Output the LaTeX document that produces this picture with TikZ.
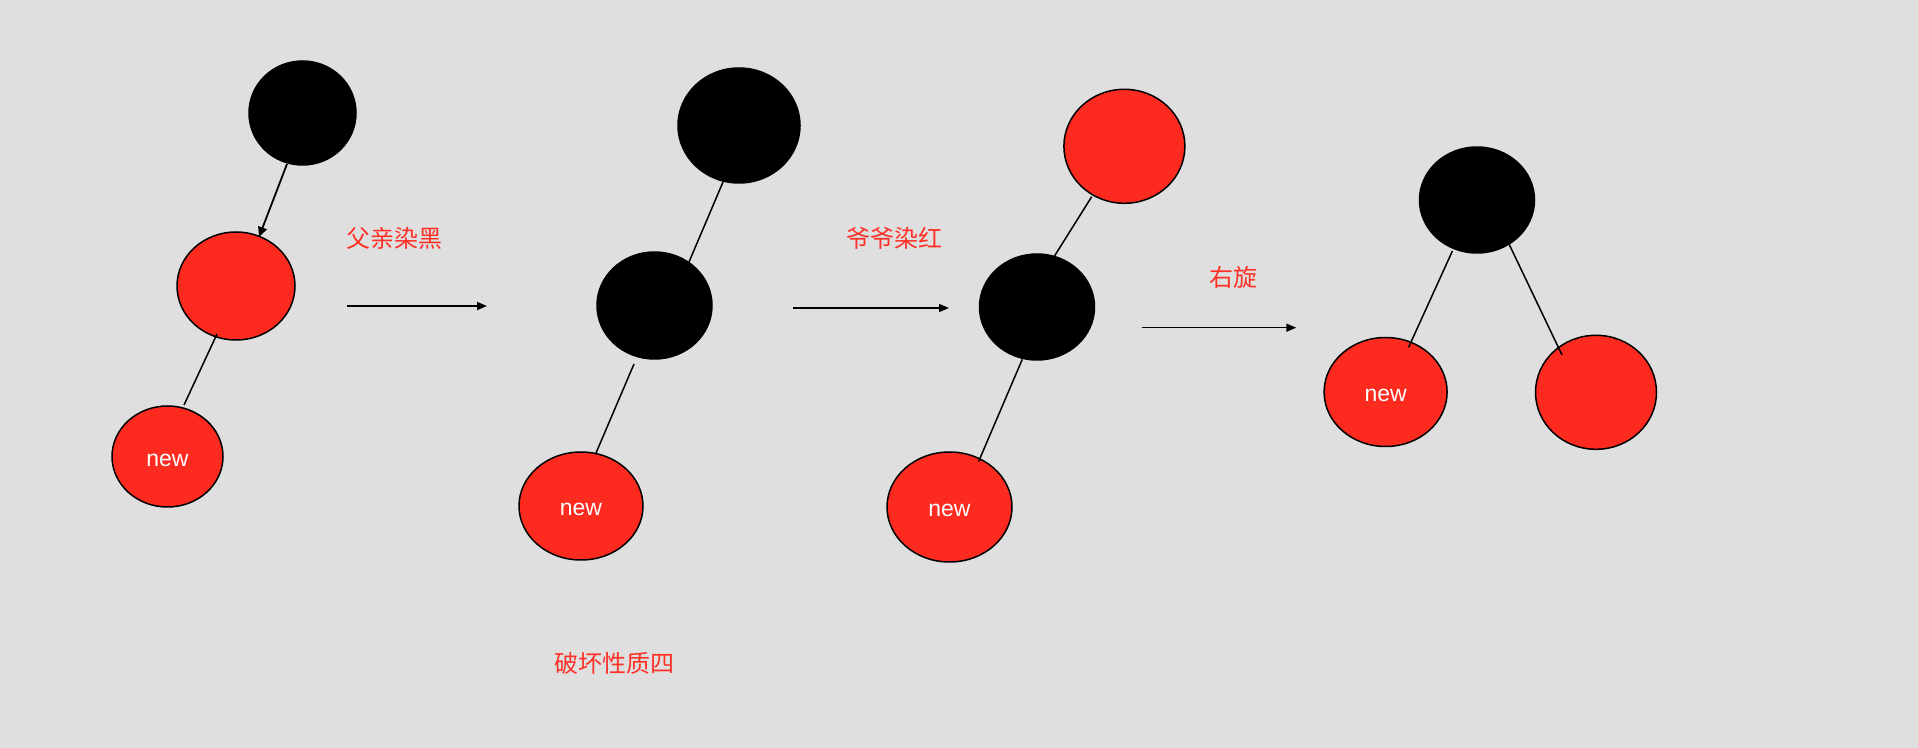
\documentclass[tikz,border=0pt]{standalone}
\usepackage{fontspec}
\setmainfont{Liberation Sans}
\newfontfamily\cjk{Noto Sans CJK SC}
\usetikzlibrary{shapes.geometric,arrows.meta,calc}
\definecolor{bg}{RGB}{223,223,223}
\definecolor{rbred}{RGB}{252,42,31}
\definecolor{lblred}{RGB}{255,48,38}
\begin{document}
\begin{tikzpicture}[x=0.5pt,y=-0.5pt,
  blk/.style={ellipse,fill=black,draw=black,line width=0.75pt,inner sep=0pt,outer sep=0pt},
  red/.style={ellipse,fill=rbred,draw=black,line width=0.75pt,inner sep=0pt,outer sep=0pt,
    text=white,font=\fontsize{11.5}{13}\selectfont,text height=10pt,text depth=0pt},
  edge/.style={draw=black,line width=0.75pt},
  harrow/.style={draw=black,line width=0.8pt,-{Triangle[length=5pt,width=4pt]}},
  lbl/.style={text=lblred,font=\cjk\fontsize{12}{14}\selectfont,inner sep=0pt}]
\fill[bg] (0,0) rectangle (1918,748);
\useasboundingbox (0,0) rectangle (1918,748);
% tree 1
\node[blk,minimum width=53.5pt,minimum height=52pt] (a1) at (302.5,113) {};
\node[red,minimum width=59pt,minimum height=54pt] (b1) at (236,286) {};
\node[red,minimum width=55.5pt,minimum height=50.5pt] (c1) at (167.5,456.5) {new};
% tree 2
\node[blk,minimum width=61pt,minimum height=57.5pt] (a2) at (739,125.5) {};
\node[blk,minimum width=57.5pt,minimum height=53.5pt] (b2) at (654.5,305.5) {};
\node[red,minimum width=62pt,minimum height=54pt] (c2) at (581,506) {new};
% tree 3
\node[red,minimum width=60.5pt,minimum height=57pt] (a3) at (1124.4,146.3) {};
\node[blk,minimum width=57.5pt,minimum height=53pt] (b3) at (1037,307) {};
\node[red,minimum width=62.5pt,minimum height=55pt] (c3) at (949.5,507) {new};
% tree 4
\node[blk,minimum width=57.5pt,minimum height=53pt] (a4) at (1477,200) {};
\node[red,minimum width=61.5pt,minimum height=54.5pt] (b4) at (1385.6,392) {new};
\node[red,minimum width=60.5pt,minimum height=57pt] (c4) at (1596,392.3) {};
% edges
\draw[harrow,line width=0.9pt,-{Triangle[length=5pt,width=4.5pt]}] ($(a1)+(-15.5,51)$) -- ($(b1)+(23,-49)$);
\draw[edge] ($(b1)+(-19,48)$) -- ($(c1)+(16.5,-51.5)$);
\draw[edge] ($(a2)+(-16,56.5)$) -- ($(b2)+(34.5,-43.5)$);
\draw[edge] ($(b2)+(-20.5,58.5)$) -- ($(c2)+(15,-53)$);
\draw[edge] ($(a3)+(-32.7,50.4)$) -- ($(b3)+(17.5,-51)$);
\draw[edge] ($(b3)+(-14.7,52.3)$) -- ($(c3)+(29,-45.3)$);
\draw[edge] ($(a4)+(-24.6,51)$) -- ($(b4)+(23,-44.7)$);
\draw[edge] ($(a4)+(32,44)$) -- ($(c4)+(-34,-37.3)$);
% step arrows
\coordinate (s1) at (347,306); \coordinate (e1) at (487,306);
\coordinate (s2) at (793,308); \coordinate (e2) at (949,308);
\coordinate (s3) at (1142,327.7); \coordinate (e3) at (1296.3,327.7);
\draw[harrow] (s1) -- (e1);
\draw[harrow] (s2) -- (e2);
\draw[harrow] (s3) -- (e3);
% labels
\node[lbl] (l1) at (394,238) {父亲染黑};
\node[lbl] (l2) at (894.5,238.5) {爷爷染红};
\node[lbl] (l3) at (1233,277) {右旋};
\node[lbl] (l4) at (614,663) {破坏性质四};
\end{tikzpicture}
\end{document}
